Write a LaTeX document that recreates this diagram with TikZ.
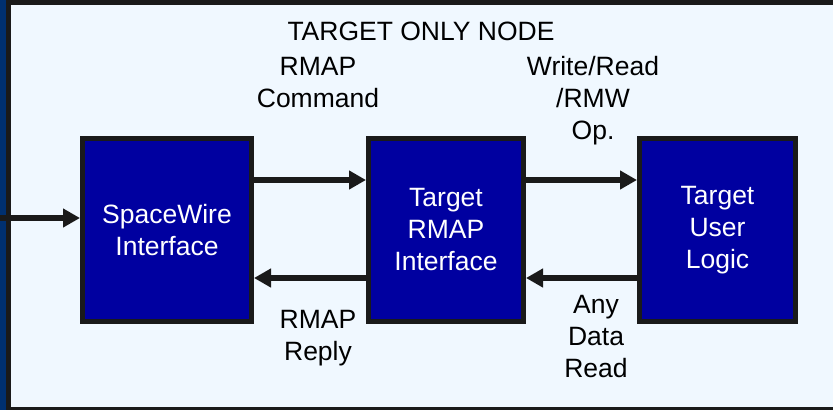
\documentclass[tikz,border=0pt]{standalone}
\usepackage{fontspec}
\setmainfont{Liberation Sans}
\usetikzlibrary{arrows.meta}
\definecolor{navy}{HTML}{003070}
\definecolor{frame}{HTML}{1A1A1A}
\definecolor{pale}{HTML}{F0F8FF}
\definecolor{boxblue}{HTML}{0000A0}
\tikzset{
  blk/.style={draw=frame, line width=5pt, fill=boxblue, text=white, align=center,
    minimum height=183pt, inner sep=0pt, font=\fontsize{26.5}{32}\selectfont},
  lbl/.style={align=center, text=black, inner sep=0pt, font=\fontsize{26.5}{32}\selectfont},
  arr/.style={draw=frame, line width=6pt, -{Triangle[length=17pt,width=18pt]}}
}
\begin{document}
\begin{tikzpicture}[x=1pt,y=-1pt]
\useasboundingbox (0,0) rectangle (833,410);
\fill[navy] (0,0) rectangle (833,410);
\fill[frame] (6,0) rectangle (833,410);
\fill[pale] (10.5,5) rectangle (833,406.5);
\node[blk, minimum width=169pt] (sw) at (167,230) {SpaceWire\\Interface};
\node[blk, minimum width=155pt] (rmap) at (446,230) {Target\\RMAP\\Interface};
\node[blk, minimum width=156pt] (user) at (717.5,230) {Target\\User\\Logic};
\coordinate (in) at (0,218);
\draw[arr] (in) -- (sw.west |- in);
\draw[arr] (sw.east |- 0,180) -- (rmap.west |- 0,180);
\draw[arr] (rmap.east |- 0,180) -- (user.west |- 0,180);
\draw[arr] (rmap.west |- 0,278) -- (sw.east |- 0,278);
\draw[arr] (user.west |- 0,278) -- (rmap.east |- 0,278);
\node[lbl] (title) at (421,31) {TARGET ONLY NODE};
\node[lbl] (cmd) at (318,83) {RMAP\\Command};
\node[lbl] (op) at (593,101) {Write/Read\\/RMW\\Op.};
\node[lbl] (reply) at (318,338) {RMAP\\Reply};
\node[lbl] (data) at (596,337) {Any\\Data\\Read};
\end{tikzpicture}
\end{document}
